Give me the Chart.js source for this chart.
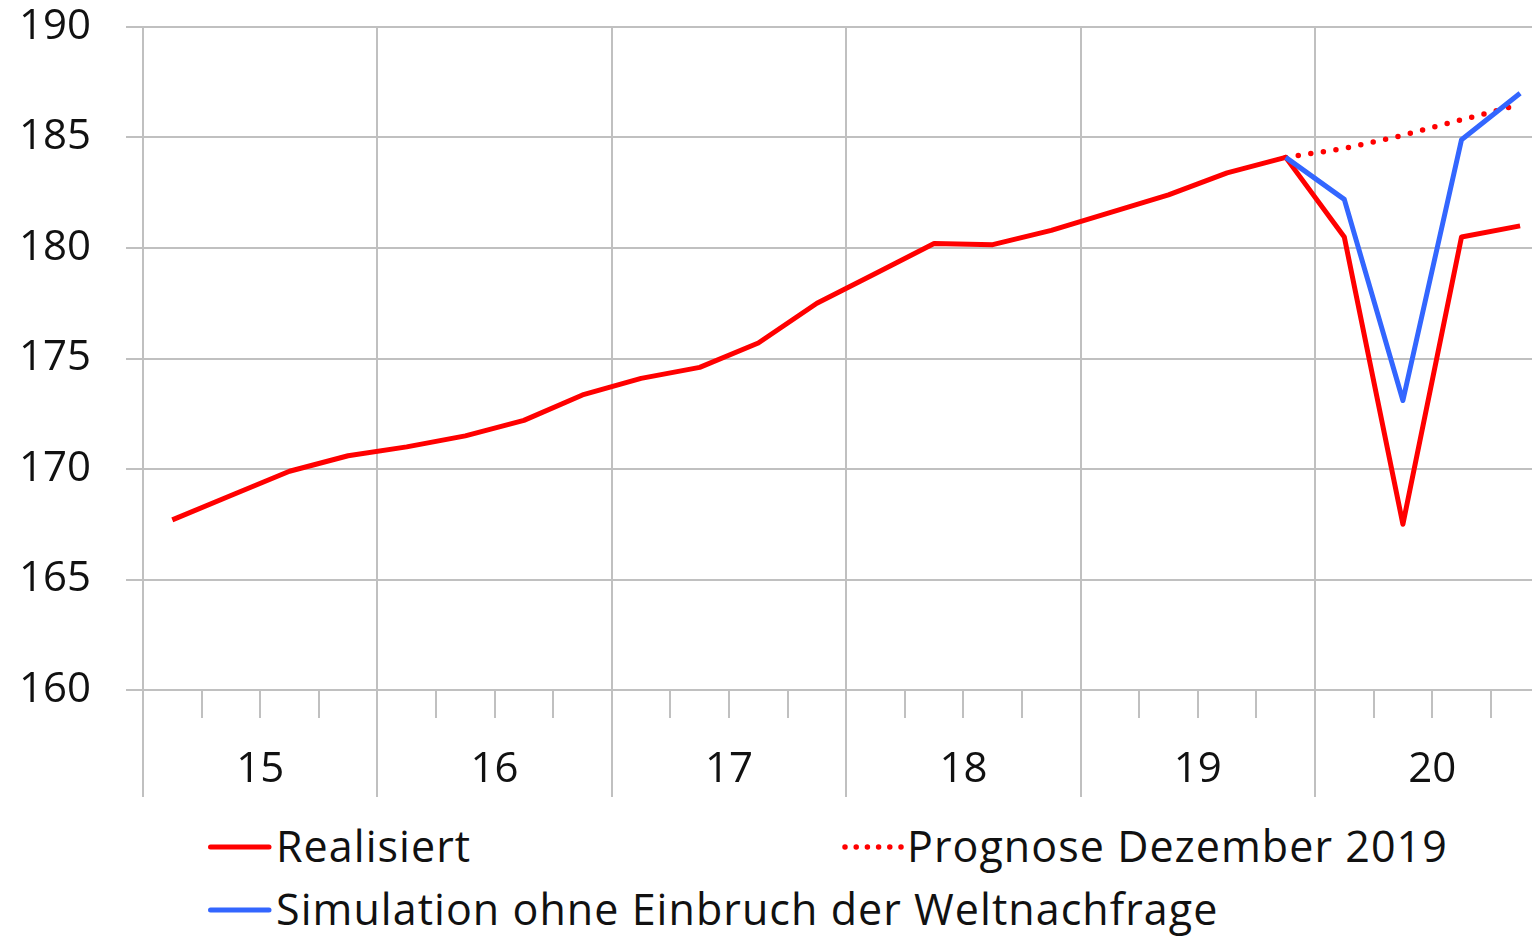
<!DOCTYPE html>
<html lang="de">
<head>
<meta charset="utf-8">
<title>Realisiert, Prognose und Simulation</title>
<script src="https://cdn.jsdelivr.net/npm/chart.js@4.4.1/dist/chart.umd.min.js"></script>
<style>
  html, body { margin: 0; padding: 0; background: #fff; overflow: hidden; width: 1532px; height: 936px; }
  body { position: relative; font-family: 'Open Sans', sans-serif; color: #111; }
  #wrap { position: absolute; left: 0; top: 0; width: 1560px; height: 800px; }
  .legend-item { position: absolute; font-size: 43px; line-height: 43px; letter-spacing: 1.05px; white-space: nowrap; }
  .legend-item svg { position: absolute; left: 0; }
</style>
</head>
<body>
<div id="wrap"><canvas id="chart"></canvas></div>
<div id="legend"></div>
<script>
// Quartale 2015 bis 2020
const quarters = [
  '2015 Q1', '2015 Q2', '2015 Q3', '2015 Q4',
  '2016 Q1', '2016 Q2', '2016 Q3', '2016 Q4',
  '2017 Q1', '2017 Q2', '2017 Q3', '2017 Q4',
  '2018 Q1', '2018 Q2', '2018 Q3', '2018 Q4',
  '2019 Q1', '2019 Q2', '2019 Q3', '2019 Q4',
  '2020 Q1', '2020 Q2', '2020 Q3', '2020 Q4'
];
const yearLabels = ['15', '16', '17', '18', '19', '20'];

const realisiert = [
  167.7, 168.8, 169.9, 170.6,
  171.0, 171.5, 172.2, 173.35,
  174.1, 174.6, 175.7, 177.5,
  178.85, 180.2, 180.15, 180.8,
  181.6, 182.4, 183.4, 184.1,
  180.5, 167.5, 180.5, 181.0
];
const prognose = [
  null, null, null, null, null, null, null, null, null, null, null, null,
  null, null, null, null, null, null, null, 184.1,
  184.5, 185.1, 185.8, 186.5
];
const simulation = [
  null, null, null, null, null, null, null, null, null, null, null, null,
  null, null, null, null, null, null, null, 184.1,
  182.2, 173.1, 184.9, 187.0
];

const yMin = 160, yMax = 190, yStep = 5;
const gridColor = '#c0c0c0';
const red = '#ff0000';
const blue = '#3366ff';

// kurze Quartalsstriche und lange Jahresstriche unter der Achse
const quarterTicks = {
  id: 'quarterTicks',
  afterDraw(chart) {
    const x = chart.scales.x;
    const ctx = chart.ctx;
    const bottom = chart.chartArea.bottom;
    const step = x.getPixelForValue(1) - x.getPixelForValue(0);
    ctx.save();
    ctx.strokeStyle = gridColor;
    ctx.lineWidth = 2;
    for (let i = 0; i <= quarters.length; i++) {
      const px = Math.round(x.getPixelForValue(i) - step / 2);
      ctx.beginPath();
      ctx.moveTo(px, bottom);
      ctx.lineTo(px, bottom + (i % 4 === 0 ? 107 : 28));
      ctx.stroke();
    }
    ctx.restore();
  }
};

const datasets = [
  {
    label: 'Realisiert',
    data: realisiert,
    borderColor: red,
    borderWidth: 5,
    order: 1
  },
  {
    label: 'Prognose Dezember 2019',
    data: prognose,
    borderColor: red,
    borderWidth: 5.5,
    borderDash: [0, 12.7],
    borderCapStyle: 'round',
    order: 2
  },
  {
    label: 'Simulation ohne Einbruch der Weltnachfrage',
    data: simulation,
    borderColor: blue,
    borderWidth: 5,
    order: 0
  }
];

new Chart(document.getElementById('chart'), {
  type: 'line',
  data: { labels: quarters, datasets: datasets },
  options: {
    responsive: true,
    maintainAspectRatio: false,
    animation: false,
    layout: { padding: { top: 27, right: 10.6, left: 0, bottom: 0 } },
    elements: {
      point: { radius: 0, hoverRadius: 0 },
      line: { tension: 0, borderJoinStyle: 'round', spanGaps: false }
    },
    plugins: {
      legend: { display: false },
      tooltip: { enabled: false }
    },
    scales: {
      x: {
        offset: true,
        border: { display: false },
        grid: {
          offset: true,
          drawTicks: false,
          lineWidth: 2,
          color: ctx => (ctx.index === undefined || ctx.index % 4 === 0) ? gridColor : 'rgba(0,0,0,0)'
        },
        ticks: {
          autoSkip: false,
          maxRotation: 0,
          minRotation: 0,
          padding: 55,
          labelOffset: 29.3,
          color: '#111',
          font: { family: 'Open Sans', size: 42 },
          callback: (val, index) => index % 4 === 1 ? yearLabels[(index - 1) / 4] : ''
        },
        afterFit: scale => {
          scale.height = 110;
          scale.paddingLeft = 0;
          scale.paddingRight = 0;
        }
      },
      y: {
        min: yMin,
        max: yMax,
        border: { display: false },
        grid: {
          color: gridColor,
          lineWidth: 2,
          tickLength: 17,
          tickColor: gridColor
        },
        ticks: {
          stepSize: yStep,
          padding: 35,
          color: '#111',
          font: { family: 'Open Sans', size: 42 }
        },
        afterFit: scale => {
          scale.width = 143;
          scale.paddingTop = 0;
          scale.paddingBottom = 0;
        }
      }
    }
  },
  plugins: [quarterTicks]
});

// Legende unter dem Diagramm
const legendPos = [
  { left: 207, top: 824, text: 276 },
  { left: 839, top: 824, text: 907 },
  { left: 207, top: 887, text: 276 }
];
const legend = document.getElementById('legend');
datasets.forEach((ds, i) => {
  const pos = legendPos[i];
  const item = document.createElement('div');
  item.className = 'legend-item';
  item.style.left = pos.left + 'px';
  item.style.top = pos.top + 'px';
  item.style.paddingLeft = (pos.text - pos.left) + 'px';
  const dotted = !!ds.borderDash;
  const x1 = dotted ? 6 : 3.5;
  const x2 = dotted ? 62 : 62;
  item.innerHTML =
    '<svg width="68" height="12" style="top:' + (847 - pos.top - 6 + (i === 2 ? 63 : 0)) + 'px">' +
    '<line x1="' + x1 + '" y1="6" x2="' + x2 + '" y2="6" stroke="' + ds.borderColor + '" stroke-width="' + (dotted ? 5.5 : 5) + '" stroke-linecap="round"' +
    (dotted ? ' stroke-dasharray="0 11.2"' : '') + '/></svg>';
  const span = document.createElement('span');
  span.textContent = ds.label;
  item.appendChild(span);
  legend.appendChild(item);
});
</script>
</body>
</html>
